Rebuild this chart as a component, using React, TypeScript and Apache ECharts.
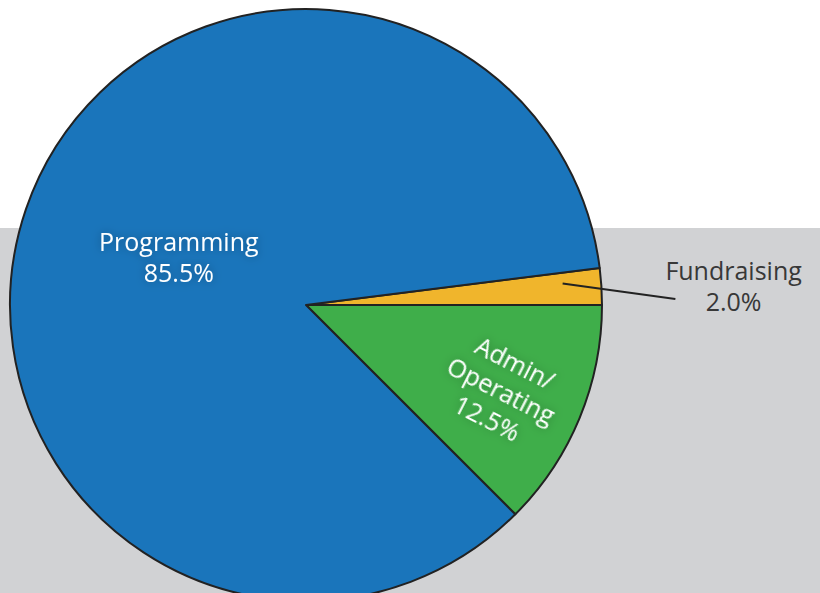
import React, { useEffect, useRef } from "react";
import * as echarts from "echarts";

const categories = ["Fundraising", "Admin/\nOperating", "Programming"];
const values = [2.0, 12.5, 85.5];
const colors = ["#f0b52c", "#3fae4a", "#1a75bb"];

const CX = 306;
const CY = 305;
const R = 296;
const FONT = "Open Sans";

export default function App() {
  const ref = useRef<HTMLDivElement>(null);

  useEffect(() => {
    if (!ref.current) return;
    const chart = echarts.init(ref.current, null, { renderer: "svg" });
    const total = values.reduce((a, b) => a + b, 0);
    const startAngle = (values[0] / total) * 360;
    const mids: number[] = [];
    let acc = 0;
    values.forEach((v) => {
      mids.push(startAngle - ((acc + v / 2) / total) * 360);
      acc += v;
    });
    const rad = (d: number) => (d * Math.PI) / 180;

    const baseLabel = {
      fontFamily: FONT,
      fontSize: 25,
      lineHeight: 31,
      formatter: (p: any) => `${p.name}\n${Number(p.value).toFixed(1)}%`,
    };

    const mainData = categories.map((name, i) => ({
      name,
      value: values[i],
      itemStyle: { color: colors[i] },
      label:
        i === 0
          ? { show: false }
          : {
              show: true,
              position: "inside",
              color: "#ffffff",
              textShadowColor: "rgba(0,0,0,0.3)",
              textShadowBlur: 10,
            },
      labelLine: { show: false },
    }));

    const overlayData = categories.map((name, i) => ({
      name,
      value: values[i],
      itemStyle: { color: "rgba(0,0,0,0)", borderWidth: 0 },
      label:
        i === 0
          ? { show: true, position: "outside", color: "#383838" }
          : { show: false },
      labelLine:
        i === 0
          ? {
              show: true,
              length: 15,
              length2: 44,
              lineStyle: { color: "#222222", width: 2 },
            }
          : { show: false },
    }));

    chart.setOption({
      animation: false,
      backgroundColor: "#ffffff",
      graphic: [
        {
          type: "rect",
          z: -10,
          silent: true,
          shape: { x: 0, y: 228, width: 820, height: 400 },
          style: { fill: "#d1d2d4" },
        },
      ],
      series: [
        {
          type: "pie",
          z: 2,
          center: [CX, CY],
          radius: [0, R],
          startAngle,
          clockwise: true,
          avoidLabelOverlap: false,
          itemStyle: { borderColor: "#222222", borderWidth: 2 },
          label: baseLabel,
          labelLayout: (params: any) => {
            const i = params.dataIndex;
            if (i === 1) {
              const a = rad(mids[1] - 1);
              return {
                x: CX + R * 0.72 * Math.cos(a),
                y: CY - R * 0.72 * Math.sin(a),
                rotate: -27,
              };
            }
            if (i === 2) {
              const a = rad(mids[2] - 2);
              return {
                x: CX + R * 0.46 * Math.cos(a),
                y: CY - R * 0.46 * Math.sin(a),
              };
            }
            return {};
          },
          data: mainData,
        },
        {
          type: "pie",
          z: 5,
          silent: true,
          center: [CX, CY],
          radius: [0, R],
          startAngle,
          clockwise: true,
          avoidLabelOverlap: false,
          label: baseLabel,
          labelLayout: (params: any) => {
            if (params.dataIndex !== 0) return {};
            const rect = params.labelRect;
            const a = rad(mids[0] + 1.2);
            const p0 = [CX + R * 0.87 * Math.cos(a), CY - R * 0.87 * Math.sin(a)];
            const p2 = [rect.x + 10, rect.y + rect.height * 0.72];
            const p1 = [(p0[0] + p2[0]) / 2, (p0[1] + p2[1]) / 2];
            return {
              x: rect.x + rect.width / 2,
              align: "center",
              labelLinePoints: [p0, p1, p2],
            };
          },
          data: overlayData,
        },
      ],
    });
    return () => chart.dispose();
  }, []);

  return (
    <div
      ref={ref}
      style={{ position: "fixed", left: 0, top: 0, width: 820, height: 593 }}
    />
  );
}
